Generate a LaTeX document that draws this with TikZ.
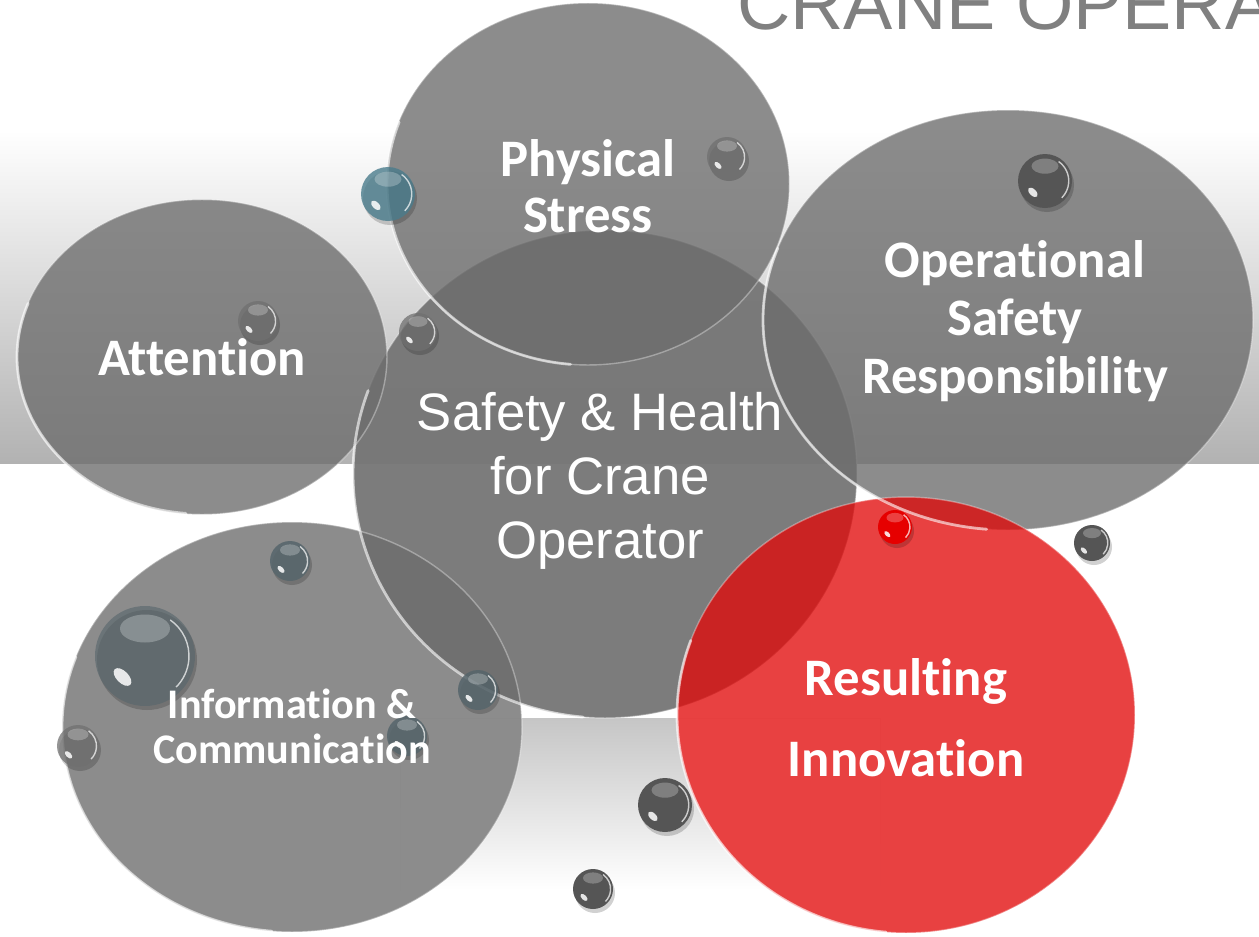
\documentclass[tikz,border=0pt]{standalone}
\usepackage{fontspec}
\setmainfont[Ligatures=NoCommon]{Carlito}
\newfontfamily\arialfont{Liberation Sans}
\usetikzlibrary{shapes.geometric}
\definecolor{bandgray}{HTML}{B2B2B2}
\definecolor{corefill}{HTML}{757575}
\definecolor{bubblefill}{HTML}{6D6D6D}
\definecolor{redfill}{RGB}{225,8,8}
\definecolor{titlegray}{HTML}{808080}
\definecolor{dropdark}{HTML}{555555}
\definecolor{dropglass}{HTML}{707070}
\definecolor{dropteal}{HTML}{4A7C8C}
\definecolor{dropslate}{HTML}{56656B}
\definecolor{dropred}{HTML}{E60000}
\tikzset{
  bubble/.style={ellipse,draw=white,draw opacity=0.35,line width=0.8pt,fill=bubblefill,fill opacity=0.79,inner sep=0pt},
  corebubble/.style={bubble,fill=corefill,fill opacity=0.95},
  redbubble/.style={bubble,fill=redfill,fill opacity=0.77},
  glint/.style={white,opacity=0.6,line width=1.6pt,line cap=round},
  tag/.style={text=white,font=\bfseries\fontsize{30}{32}\selectfont,align=center,inner sep=0pt},
}
\begin{document}
\begin{tikzpicture}[x=0.02cm,y=-0.02cm]
\useasboundingbox (0,0) rectangle (1259,937);
% backdrop band and floor reflection
\shade[top color=white,bottom color=bandgray] (0,130) rectangle (1259,463);
\begin{scope}[even odd rule]
  \clip (400,718) rectangle (880,895)
    (292,727) ellipse[x radius=230,y radius=205] (906,715) ellipse[x radius=229,y radius=218];
  \shade[top color=gray!45,bottom color=white] (400,718) rectangle (880,890);
\end{scope}
\node[anchor=base west,inner sep=0pt,text=titlegray,font=\arialfont\fontsize{42}{42}\selectfont] (title) at (737,29) {CRANE OPERA};
% bubbles
\node[corebubble,minimum width=10.08cm,minimum height=9.76cm] (core) at (605,474) {};
\node[bubble,minimum width=7.4cm,minimum height=6.3cm] (attn) at (202,357) {};
\node[bubble,minimum width=9.2cm,minimum height=8.2cm] (info) at (292,727) {};
\node[bubble,minimum width=9.8cm,minimum height=8.4cm] (oper) at (1008,320) {};
\node[bubble,minimum width=8.06cm,minimum height=7.24cm] (phys) at (588,184) {};
\node[redbubble,minimum width=9.16cm,minimum height=8.72cm] (innov) at (906,715) {};
\foreach \n/\rx/\ry in {core/252/244,attn/185/157,info/230/205,oper/245/210,phys/201/181,innov/229/218}
  \draw[glint] (\n.center) ++(95:{\rx} and {\ry}) arc[start angle=95,end angle=200,x radius=\rx,y radius=\ry];
% droplets
\foreach \bx/\by/\br/\bc/\bo in {388/194/27/dropteal/0.8, 727/157/20/dropglass/0.75, 1045/181/27/dropdark/1,
  258/321/20/dropglass/0.75, 418/332/19/dropglass/0.75, 895/527/17/dropred/1,
  1092/543/18/dropdark/1, 290/561/20/dropslate/0.85, 145/656/50/dropslate/0.6,
  478/690/20/dropslate/0.85, 78/746/21/dropglass/0.75, 407/736/20/dropslate/0.85,
  665/805/27/dropdark/1, 593/889/20/dropdark/1}
{
  \fill[black,opacity=0.18] ({\bx+2},{\by+4}) circle[radius=\br];
  \fill[\bc,opacity=\bo] (\bx,\by) circle[radius=\br];
  \fill[white,opacity=0.25] (\bx,{\by-0.55*\br}) ellipse[x radius=0.5*\br,y radius=0.28*\br];
  \fill[white,opacity=0.85,shift={({\bx-0.45*\br},{\by+0.42*\br})},rotate=-45] (0,0) ellipse[x radius=0.22*\br,y radius=0.12*\br];
  \draw[white,opacity=0.7,line width=0.8pt] (\bx,\by) ++(-55:{0.88*\br}) arc[start angle=-55,end angle=45,radius=0.88*\br];
}
% labels
\node[tag] (physlbl) at (588,186) {Physical\\Stress};
\node[tag] (attnlbl) at (202,357) {Attention};
\node[tag,font=\bfseries\fontsize{30}{33}\selectfont] (operlbl) at (1015,321) {Operational\\Safety\\Responsibility};
\node[tag,font=\bfseries\fontsize{24}{25.5}\selectfont] (infolbl) at (292,726) {Information \&\\Communication};
\node[tag,font=\bfseries\fontsize{30}{46}\selectfont] (innovlbl) at (906,718) {Resulting\\Innovation};
\node[tag,font=\arialfont\fontsize{30}{36.6}\selectfont] (corelbl) at (600,481) {Safety \& Health\\for Crane\\Operator};
\end{tikzpicture}
\end{document}
